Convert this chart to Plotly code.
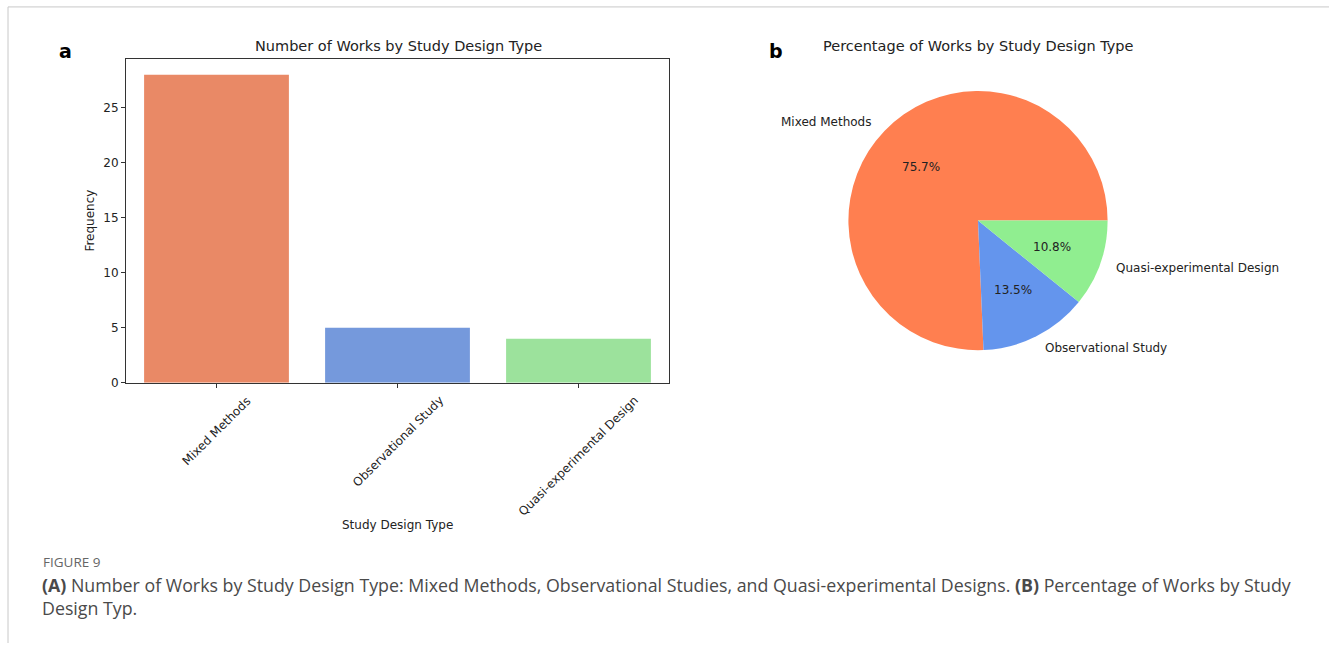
import math
import plotly.graph_objects as go

# ---- data ----
categories = ["Mixed Methods", "Observational Study", "Quasi-experimental Design"]
counts = [28, 5, 4]
y_ticks = [0, 5, 10, 15, 20, 25]
bar_colors = ["#E98966", "#7599DC", "#9CE29C"]
pie_colors = ["#FF7F50", "#6495ED", "#90EE90"]

W, H = 1329, 650


def px(x):
    return x / W


def py(y):
    return 1 - y / H


fig = go.Figure()

# ---- bar chart (a) ----
ax_l, ax_r, ax_t, ax_b = 126, 669, 60, 387
fig.add_trace(go.Bar(
    x=list(range(len(categories))), y=counts, width=0.8,
    marker=dict(color=bar_colors, line=dict(width=0)),
    xaxis="x", yaxis="y", showlegend=False, hoverinfo="y",
))
ymax = max(counts) * 1.05

axis_font = dict(family="DejaVu Sans", size=12, color="#222")
title_font = dict(family="DejaVu Sans", size=14.5, color="#222")
fig.update_layout(
    xaxis=dict(domain=[px(ax_l), px(ax_r)], range=[-0.5, len(categories) - 0.5],
               tickvals=list(range(len(categories))), showticklabels=False,
               ticks="outside", ticklen=4, tickcolor="#333",
               showline=True, linecolor="#333", linewidth=1, mirror=True,
               showgrid=False, zeroline=False, fixedrange=True),
    yaxis=dict(domain=[py(ax_b), py(ax_t)], range=[0, ymax],
               tickvals=y_ticks, ticks="outside", ticklen=4, tickcolor="#333",
               tickfont=axis_font,
               showline=True, linecolor="#333", linewidth=1, mirror=True,
               showgrid=False, zeroline=False, fixedrange=True),
)

annotations = []
# rotated category labels
for i, c in enumerate(categories):
    annotations.append(dict(x=i, xref="x", y=py(395), yref="paper", text=c,
                            textangle=-45, xanchor="center", yanchor="top",
                            showarrow=False, font=axis_font))
annotations.append(dict(x=px(397), y=py(531), xref="paper", yref="paper",
                        text="Study Design Type", showarrow=False,
                        xanchor="center", yanchor="middle", font=axis_font))
annotations.append(dict(x=px(90), y=py(223), xref="paper", yref="paper",
                        text="Frequency", textangle=-90, showarrow=False,
                        xanchor="center", yanchor="middle", font=axis_font))
annotations.append(dict(x=px(398), y=py(47), xref="paper", yref="paper",
                        text="Number of Works by Study Design Type", showarrow=False,
                        xanchor="center", yanchor="middle", font=title_font))
annotations.append(dict(x=px(65), y=py(52), xref="paper", yref="paper",
                        text="<b>a</b>", showarrow=False,
                        xanchor="center", yanchor="middle",
                        font=dict(family="DejaVu Sans", size=19, color="#000")))

# ---- pie chart (b) ----
cx, cy, r = 978, 223, 131
total = sum(counts)
# start the first wedge at 3 o'clock going counterclockwise (matplotlib style)
rotation = 90 - 360 * counts[0] / total
fig.add_trace(go.Pie(
    labels=categories, values=counts, sort=False, direction="counterclockwise",
    rotation=rotation, marker=dict(colors=pie_colors, line=dict(width=0)),
    textinfo="none", showlegend=False, hoverinfo="label+percent",
    domain=dict(x=[px(cx - r), px(cx + r)], y=[py(cy + r), py(cy - r)]),
))

start = 0.0
for c, v in zip(categories, counts):
    frac = v / total
    mid = math.radians((start + frac / 2) * 360)
    start += frac
    lx = cx + 1.1 * r * math.cos(mid)
    ly = cy - 1.1 * r * math.sin(mid)
    annotations.append(dict(x=px(lx), y=py(ly), xref="paper", yref="paper",
                            text=c, showarrow=False,
                            xanchor="left" if math.cos(mid) > 0 else "right",
                            yanchor="middle", font=axis_font))
    tx = cx + 0.6 * r * math.cos(mid)
    ty = cy - 0.6 * r * math.sin(mid)
    annotations.append(dict(x=px(tx), y=py(ty), xref="paper", yref="paper",
                            text=f"{frac * 100:.1f}%", showarrow=False,
                            xanchor="center", yanchor="middle", font=axis_font))

annotations.append(dict(x=px(978), y=py(47), xref="paper", yref="paper",
                        text="Percentage of Works by Study Design Type", showarrow=False,
                        xanchor="center", yanchor="middle", font=title_font))
annotations.append(dict(x=px(776), y=py(52), xref="paper", yref="paper",
                        text="<b>b</b>", showarrow=False,
                        xanchor="center", yanchor="middle",
                        font=dict(family="DejaVu Sans", size=19, color="#000")))

# ---- caption ----
cap_font = dict(family="Open Sans", size=17.8, color="#4a4a4a")
annotations.append(dict(x=px(41), y=py(568), xref="paper", yref="paper",
                        text="FIGURE 9", showarrow=False, xanchor="left", yanchor="middle",
                        font=dict(family="Open Sans", size=13.5, color="#666")))
annotations.append(dict(x=px(40), y=py(591), xref="paper", yref="paper",
                        text="<b>(A)</b> Number of Works by Study Design Type: Mixed Methods, "
                             "Observational Studies, and Quasi-experimental Designs. "
                             "<b>(B)</b> Percentage of Works by Study",
                        showarrow=False, xanchor="left", yanchor="middle", font=cap_font))
annotations.append(dict(x=px(40), y=py(615), xref="paper", yref="paper",
                        text="Design Typ.", showarrow=False, xanchor="left",
                        yanchor="middle", font=cap_font))

shapes = [
    dict(type="line", xref="paper", yref="paper", x0=px(8), x1=1, y0=py(7), y1=py(7),
         line=dict(color="#c8c8c8", width=1)),
    dict(type="line", xref="paper", yref="paper", x0=px(8), x1=px(8), y0=py(7), y1=0,
         line=dict(color="#c8c8c8", width=1)),
]

fig.update_layout(
    width=W, height=H, margin=dict(l=0, r=0, t=0, b=0),
    paper_bgcolor="white", plot_bgcolor="white",
    annotations=annotations, shapes=shapes,
    font=dict(family="DejaVu Sans"),
)

fig.write_html("out.html", config={"displayModeBar": False})
